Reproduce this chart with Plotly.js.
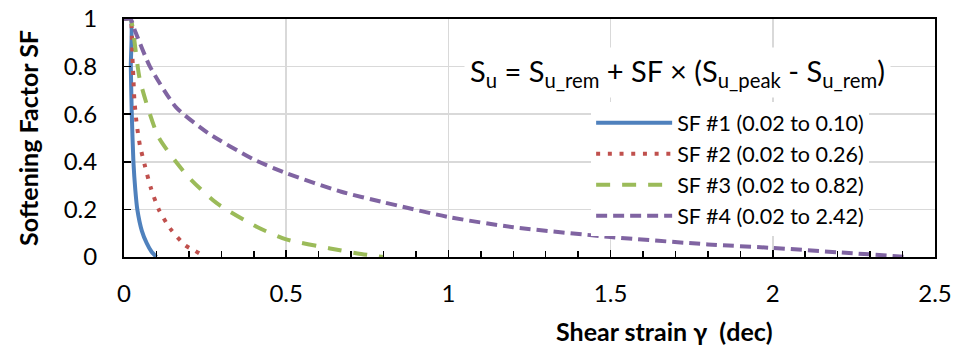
<!DOCTYPE html>
<html>
<head>
<meta charset="utf-8">
<script src="https://cdn.plot.ly/plotly-3.0.1.min.js"></script>
<style>html,body{margin:0;padding:0;background:#fff;}</style>
</head>
<body>
<div id="chart" style="width:954px;height:351px;"></div>
<script>
// SF #1 (0.02 to 0.10)
const sf1X = [0, 0.02, 0.021, 0.024, 0.029, 0.035, 0.041, 0.055, 0.07, 0.085, 0.1];
const sf1Y = [1, 1, 0.8, 0.6, 0.4, 0.28, 0.2, 0.11, 0.058, 0.022, 0];
// SF #2 (0.02 to 0.26)
const sf2X = [0, 0.02, 0.024, 0.026, 0.029, 0.032, 0.039, 0.049, 0.065, 0.083, 0.107, 0.142, 0.188, 0.219, 0.25];
const sf2Y = [1, 1, 0.94, 0.84, 0.75, 0.66, 0.56, 0.47, 0.38, 0.289, 0.2, 0.12, 0.05, 0.026, 0];
// SF #3 (0.02 to 0.82)
const sf3X = [0, 0.02, 0.029, 0.049, 0.106, 0.198, 0.286, 0.409, 0.5, 0.635, 0.72, 0.8];
const sf3Y = [1, 1, 0.94, 0.744, 0.505, 0.337, 0.226, 0.127, 0.074, 0.036, 0.015, 0];
// SF #4 (0.02 to 2.42)
const sf4X = [0, 0.02, 0.034, 0.08, 0.16, 0.26, 0.4, 0.5, 0.67, 0.8, 1.0, 1.2, 1.5, 1.8, 2.0, 2.2, 2.42];
const sf4Y = [1, 1, 0.95, 0.8, 0.63, 0.52, 0.41, 0.352, 0.274, 0.23, 0.168, 0.125, 0.084, 0.053, 0.038, 0.02, 0];

const seriesNames = ['SF #1 (0.02 to 0.10)', 'SF #2 (0.02 to 0.26)', 'SF #3 (0.02 to 0.82)', 'SF #4 (0.02 to 2.42)'];
const xTitle = 'Shear strain γ  (dec)';
const yTitle = 'Softening Factor SF';
const equation = 'S<sub>u</sub> = S<sub>u_rem</sub> + SF × (S<sub>u_peak</sub> - S<sub>u_rem</sub>)';

const FONT = 'Lato, "Open Sans", sans-serif';

const traces = [
  {x: sf1X, y: sf1Y, name: seriesNames[0], mode: 'lines',
   line: {color: '#4f81bd', width: 4, shape: 'spline', smoothing: 0.6}},
  {x: sf2X, y: sf2Y, name: seriesNames[1], mode: 'lines',
   line: {color: '#c0504d', width: 4, dash: '4px,7.7px', shape: 'spline', smoothing: 0.6}},
  {x: sf3X, y: sf3Y, name: seriesNames[2], mode: 'lines',
   line: {color: '#9bbb59', width: 4, dash: '14px,12px', shape: 'spline', smoothing: 0.6}},
  {x: sf4X, y: sf4Y, name: seriesNames[3], mode: 'lines',
   line: {color: '#8064a2', width: 4, dash: '11px,6px', shape: 'spline', smoothing: 0.6}}
];

const layout = {
  width: 954, height: 351,
  margin: {l: 124, r: 19, t: 19, b: 94},
  paper_bgcolor: '#fff', plot_bgcolor: '#fff',
  font: {family: FONT, color: '#000', size: 21},
  showlegend: true,
  legend: {
    x: 0.576, y: 0.65, xanchor: 'left', yanchor: 'top',
    bgcolor: '#fff', borderwidth: 0,
    font: {family: FONT, size: 21.5, color: '#000'},
    tracegroupgap: 0, itemwidth: 76
  },
  xaxis: {
    range: [0, 2.5], dtick: 0.5, tick0: 0,
    showgrid: true, gridcolor: '#d9d9d9', gridwidth: 1.5,
    showline: true, linecolor: '#000', linewidth: 2, mirror: true,
    ticks: 'inside', ticklen: 7, tickwidth: 1.5, tickcolor: '#000',
    minor: {dtick: 0.1, ticks: 'inside', ticklen: 6, tickwidth: 1.5, tickcolor: '#000', showgrid: false},
    zeroline: false,
    tickfont: {family: FONT, size: 24, color: '#000'},
    ticklabelstandoff: 14
  },
  yaxis: {
    range: [0, 1], dtick: 0.2, tick0: 0,
    showgrid: true, gridcolor: '#d9d9d9', gridwidth: 1.5,
    showline: true, linecolor: '#000', linewidth: 2, mirror: true,
    ticks: 'inside', ticklen: 7, tickwidth: 1.5, tickcolor: '#000',
    zeroline: false,
    tickfont: {family: FONT, size: 24, color: '#000'},
    ticklabelstandoff: 20,
    title: {text: yTitle, font: {family: FONT, size: 25, color: '#000', weight: 'bold'}, standoff: 18}
  },
  annotations: [{
    xref: 'paper', yref: 'paper', x: 0.683, y: 0.775,
    xanchor: 'center', yanchor: 'middle',
    text: equation, showarrow: false,
    font: {family: FONT, size: 29, color: '#000'},
    bgcolor: '#fff', borderpad: 5
  }, {
    xref: 'paper', yref: 'paper', x: 0.667, y: -0.31,
    xanchor: 'center', yanchor: 'middle',
    text: '<b>' + xTitle + '</b>', showarrow: false,
    font: {family: FONT, size: 25, color: '#000'}
  }]
};

Plotly.newPlot('chart', traces, layout, {displayModeBar: false, staticPlot: true});
</script>
</body>
</html>
